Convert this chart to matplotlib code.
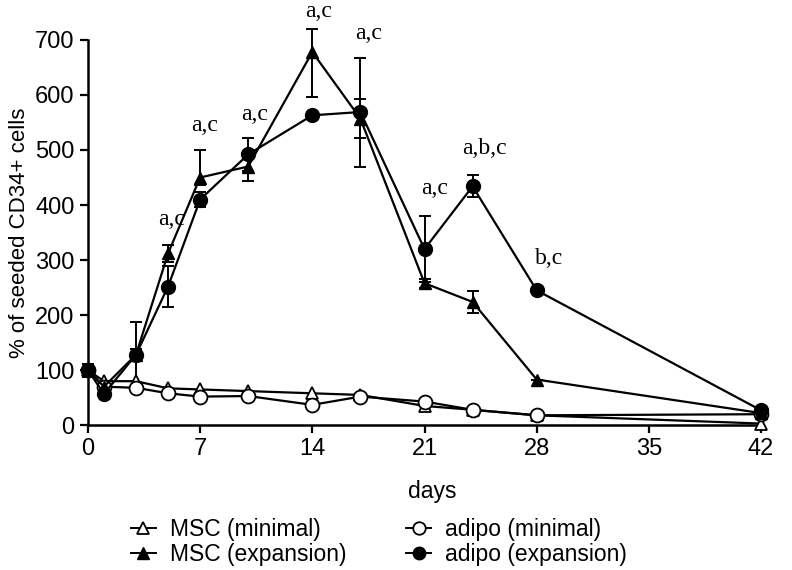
import numpy as np
import matplotlib.pyplot as plt
from matplotlib.lines import Line2D

days = [0, 1, 3, 5, 7, 10, 14, 17, 21, 24, 28, 42]

msc_min = [100, 80, 80, 67, 65, 62, 58, 55, 35, 28, 18, 3]
msc_exp = [100, 70, 128, 312, 450, 470, 678, 557, 258, 224, 83, 22]
msc_exp_lo = [12, 8, 10, 15, 14, 26, 82, 35, 8, 20, 0, 0]
msc_exp_hi = [12, 8, 10, 15, 50, 26, 42, 35, 8, 20, 0, 0]
adipo_min = [100, 70, 68, 58, 52, 53, 37, 52, 43, 28, 18, 20]
adipo_exp = [100, 57, 128, 252, 410, 492, 563, 569, 320, 434, 245, 27]
adipo_exp_err = [12, 6, 60, 38, 14, 30, 5, 99, 60, 20, 0, 0]

labels = ["a,c", "a,c", "a,c", "a,c", "a,c", "a,c", "a,b,c", "b,c"]
label_x = [5.25, 7.25, 10.4, 14.4, 17.5, 21.6, 24.75, 28.8]
label_y = [373, 544, 565, 752, 712, 430, 503, 303]

plt.rcParams['font.family'] = ['Liberation Sans', 'DejaVu Sans']

fig = plt.figure(figsize=(7.92, 5.70), dpi=100)
ax = fig.add_axes([0.111, 0.254, 0.850, 0.676])

kw = dict(color='black', lw=1.6, clip_on=False, zorder=3)
ekw = dict(ecolor='black', elinewidth=1.4, capsize=4, capthick=1.4)

ax.errorbar(days, msc_exp, yerr=[msc_exp_lo, msc_exp_hi], marker='^', ms=9,
            mfc='black', mec='black', **kw, **ekw)
ax.errorbar(days, adipo_exp, yerr=adipo_exp_err, marker='o', ms=10,
            mfc='black', mec='black', **kw, **ekw)
ax.plot(days, msc_min, marker='^', ms=9, mfc='white', mec='black',
        mew=1.3, **kw)
ax.plot(days, adipo_min, marker='o', ms=10, mfc='white', mec='black',
        mew=1.3, **kw)

for t, x, y in zip(labels, label_x, label_y):
    ax.text(x, y, t, ha='center', va='center', fontsize=17,
            family='Liberation Serif', clip_on=False)

ax.set_xlim(0, 42)
ax.set_ylim(0, 700)
ax.set_xticks([0, 7, 14, 21, 28, 35, 42])
ax.set_yticks(range(0, 701, 100))
ax.tick_params(labelsize=17, width=1.6, length=6, direction='out')
ax.spines['top'].set_visible(False)
ax.spines['right'].set_visible(False)
ax.spines['left'].set_linewidth(1.8)
ax.spines['bottom'].set_linewidth(1.8)
ax.set_xlabel('days', fontsize=16.5, labelpad=14, x=0.512)
ax.set_ylabel('% of seeded CD34+ cells', fontsize=16, labelpad=4)

handles = [
    Line2D([], [], color='black', lw=1.4, marker='^', ms=9, mfc='white', mew=1.3),
    Line2D([], [], color='black', lw=1.4, marker='^', ms=9, mfc='black'),
    Line2D([], [], color='black', lw=1.4, marker='o', ms=9, mfc='white', mew=1.3),
    Line2D([], [], color='black', lw=1.4, marker='o', ms=9, mfc='black'),
]
names = ['MSC (minimal)', 'MSC (expansion)', 'adipo (minimal)', 'adipo (expansion)']
fig.legend(handles, names, ncol=2, loc='lower left',
           bbox_to_anchor=(0.145, -0.022), frameon=False,
           fontsize=16.5, handlelength=1.1, columnspacing=2.6,
           labelspacing=0.1, handletextpad=0.6, borderpad=0.2)

fig.savefig('out.png')
